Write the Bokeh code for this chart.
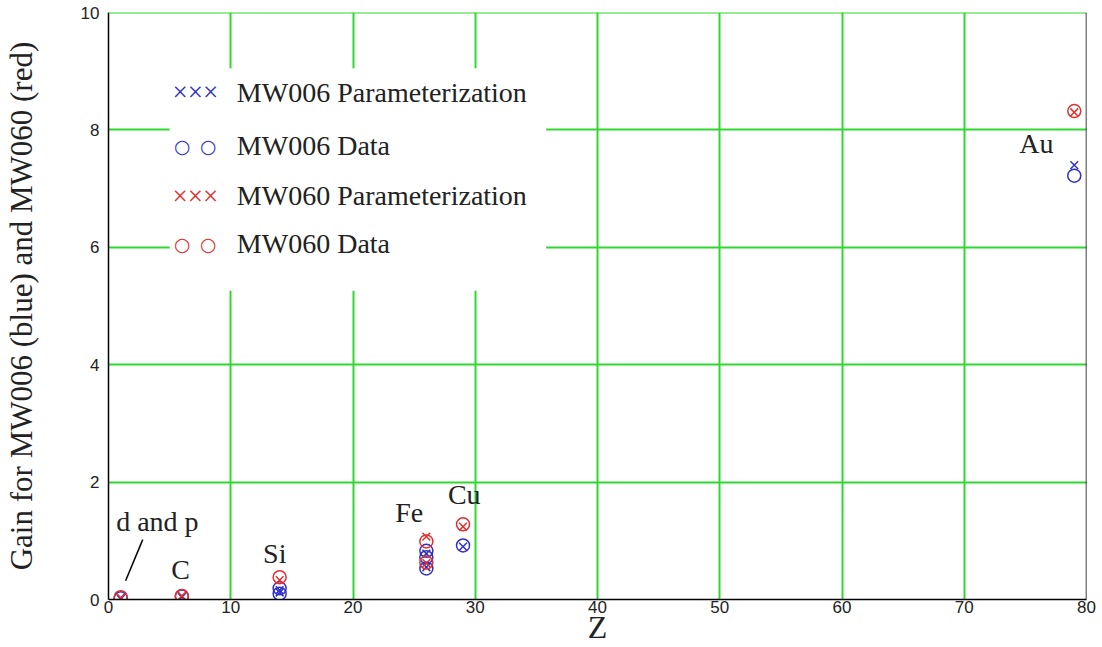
from bokeh.plotting import figure
from bokeh.models import Range1d, BoxAnnotation, Label, LabelSet, Span, FixedTicker, ColumnDataSource
from bokeh.embed import file_html
from bokeh.resources import INLINE

# ---------------- data ----------------
mw006_param_z = [1, 6, 14, 14, 26, 26, 29, 79]
mw006_param_g = [0.01, 0.04, 0.12, 0.16, 0.78, 0.55, 0.90, 7.40]

mw006_data_z = [1, 6, 14, 14, 26, 26, 26, 29, 79]
mw006_data_g = [0.02, 0.05, 0.10, 0.19, 0.83, 0.72, 0.53, 0.92, 7.22]

mw060_param_z = [1, 6, 14, 26, 26, 29, 79]
mw060_param_g = [0.03, 0.06, 0.33, 1.07, 0.62, 1.24, 8.30]

mw060_data_z = [1, 6, 14, 26, 26, 29, 79]
mw060_data_g = [0.04, 0.06, 0.38, 0.99, 0.63, 1.28, 8.32]

element_names = ["d and p", "C", "Si", "Fe", "Cu", "Au"]
element_x = [4.0, 5.9, 13.6, 24.6, 29.1, 75.9]
element_y = [1.33, 0.51, 0.78, 1.48, 1.79, 7.77]

pointer_x0, pointer_y0, pointer_x1, pointer_y1 = [1.4], [0.32], [2.8], [1.02]

x_ticks = [0, 10, 20, 30, 40, 50, 60, 70, 80]
y_ticks = [0, 2, 4, 6, 8, 10]

legend_labels = ["MW006 Parameterization", "MW006 Data", "MW060 Parameterization", "MW060 Data"]
legend_symbols = ["\u00d7\u00d7\u00d7", "\u25cb\u2002\u25cb", "\u00d7\u00d7\u00d7", "\u25cb\u2002\u25cb"]
legend_colors = ["#3030c8", "#3030c8", "#e03030", "#e03030"]
legend_rows = [8.64, 7.73, 6.88, 6.06]

BLUE = "#3030c8"
RED = "#e03030"
GREEN = "#2fd82f"
TEXT = "#222222"
SERIF = "Liberation Serif"

p = figure(width=1100, height=647, output_backend="svg", toolbar_location=None,
           x_range=Range1d(0, 80), y_range=Range1d(0, 10),
           min_border_left=108, min_border_right=14, min_border_top=12, min_border_bottom=48)
p.background_fill_color = "white"
p.border_fill_color = "white"
p.outline_line_color = None

p.xaxis.ticker = FixedTicker(ticks=x_ticks)
p.yaxis.ticker = FixedTicker(ticks=y_ticks)
for g in (p.xgrid, p.ygrid):
    g.grid_line_color = GREEN
    g.grid_line_width = 2
p.xgrid.ticker = FixedTicker(ticks=x_ticks)
p.ygrid.ticker = FixedTicker(ticks=y_ticks)

for ax in (p.xaxis, p.yaxis):
    ax.axis_line_color = "black"
    ax.axis_line_width = 1.5
    ax.major_tick_out = 0
    ax.major_tick_in = 0
    ax.minor_tick_line_color = None
    ax.major_label_text_font = "Liberation Sans"
    ax.major_label_text_font_size = "17px"
    ax.major_label_text_color = TEXT
    ax.axis_label_text_font = SERIF
    ax.axis_label_text_font_style = "normal"
    ax.axis_label_text_color = TEXT

p.xaxis.axis_label = "Z"
p.xaxis.axis_label_text_font_size = "32px"
p.xaxis.major_label_standoff = 1
p.xaxis.axis_label_standoff = -7
p.yaxis.axis_label = "Gain for MW006 (blue) and MW060 (red)"
p.yaxis.axis_label_text_font_size = "31px"
p.yaxis.major_label_standoff = 9
p.yaxis.axis_label_standoff = 39

p.add_layout(Span(location=10, dimension="width", line_color=GREEN, line_width=2))
p.add_layout(Span(location=80, dimension="height", line_color="black", line_width=1.5))

# data markers
p.scatter(mw006_data_z, mw006_data_g, marker="circle", size=13, fill_color=None,
          line_color=BLUE, line_width=1.5)
p.scatter(mw006_param_z, mw006_param_g, marker="x", size=11, line_color=BLUE, line_width=1.5)
p.scatter(mw060_data_z, mw060_data_g, marker="circle", size=13, fill_color=None,
          line_color=RED, line_width=1.5)
p.scatter(mw060_param_z, mw060_param_g, marker="x", size=11, line_color=RED, line_width=1.5)

# element annotations
p.segment(x0=pointer_x0, y0=pointer_y0, x1=pointer_x1, y1=pointer_y1, line_color="black", line_width=1.5)
src = ColumnDataSource(dict(x=element_x, y=element_y, t=element_names))
p.add_layout(LabelSet(x="x", y="y", text="t", source=src, text_align="center", text_baseline="middle",
                      text_font=SERIF, text_font_size="28px", text_color=TEXT))

# legend (white box with symbols and labels)
p.add_layout(BoxAnnotation(left=5.0, right=35.8, bottom=5.26, top=9.05, fill_color="white",
                           fill_alpha=1.0, line_color=None))
for sym, lab, col, row in zip(legend_symbols, legend_labels, legend_colors, legend_rows):
    if sym.startswith("\u00d7"):
        p.add_layout(Label(x=7.1, y=row, text=sym, text_align="center", text_baseline="middle",
                           text_font=SERIF, text_font_size="27px", text_color=col))
    else:
        p.add_layout(Label(x=7.1, y=row, text=sym, text_align="center", text_baseline="middle",
                           text_font="DejaVu Sans", text_font_size="19px", text_color=col))
    p.add_layout(Label(x=10.5, y=row, text=lab, text_align="left", text_baseline="middle",
                       text_font=SERIF, text_font_size="28px", text_color=TEXT))

open("out.html", "w").write(file_html(p, INLINE))
